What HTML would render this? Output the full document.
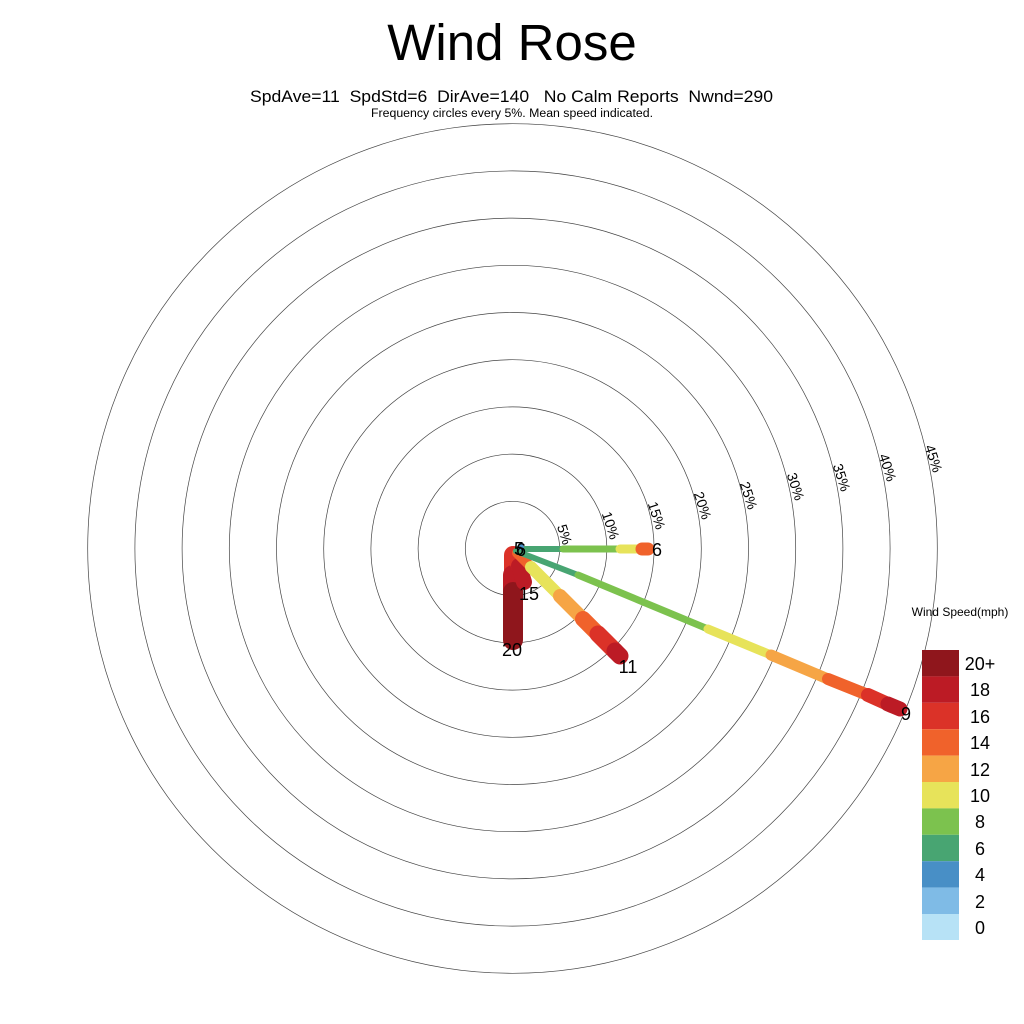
<!DOCTYPE html>
<html><head><meta charset="utf-8"><style>
html,body{margin:0;padding:0;background:#fff;}
svg{display:block;font-family:"Liberation Sans",sans-serif;}
text{white-space:pre;}
</style></head><body>
<svg width="1024" height="1024" viewBox="0 0 1024 1024" xmlns="http://www.w3.org/2000/svg" xml:space="preserve">
<rect width="1024" height="1024" fill="#fff"/>
<text x="512" y="60" font-size="51" text-anchor="middle">Wind Rose</text>
<text x="250" y="102" font-size="17" textLength="523" lengthAdjust="spacingAndGlyphs">SpdAve=11  SpdStd=6  DirAve=140   No Calm Reports  Nwnd=290</text>
<text x="371" y="117" font-size="11.5" textLength="282" lengthAdjust="spacingAndGlyphs">Frequency circles every 5%. Mean speed indicated.</text>
<g fill="none" stroke="#444" stroke-width="0.7">
<circle cx="512.5" cy="548.5" r="47.2"/><circle cx="512.5" cy="548.5" r="94.4"/><circle cx="512.5" cy="548.5" r="141.6"/>
<circle cx="512.5" cy="548.5" r="188.8"/><circle cx="512.5" cy="548.5" r="236"/><circle cx="512.5" cy="548.5" r="283.2"/>
<circle cx="512.5" cy="548.5" r="330.4"/><circle cx="512.5" cy="548.5" r="377.6"/><circle cx="512.5" cy="548.5" r="424.8"/>
</g>
<g font-size="14" text-anchor="middle">
<text transform="translate(560,536) rotate(72)">5%</text>
<text transform="translate(606,527) rotate(72)">10%</text>
<text transform="translate(652,517) rotate(72)">15%</text>
<text transform="translate(698,507) rotate(72)">20%</text>
<text transform="translate(744,497) rotate(72)">25%</text>
<text transform="translate(791,488) rotate(72)">30%</text>
<text transform="translate(837,479) rotate(72)">35%</text>
<text transform="translate(883,469) rotate(72)">40%</text>
<text transform="translate(929,460) rotate(72)">45%</text>
</g>
<g stroke-linecap="round" fill="none">
<line x1="513" y1="555" x2="513" y2="575" stroke="#db3228" stroke-width="18"/>
<line x1="513" y1="575" x2="513" y2="592" stroke="#bc1b25" stroke-width="20"/>
<line x1="513" y1="592" x2="513" y2="640" stroke="#8f161c" stroke-width="20"/>
<line x1="515" y1="555" x2="519" y2="566" stroke="#db3228" stroke-width="16"/>
<line x1="519" y1="566" x2="524" y2="582" stroke="#bc1b25" stroke-width="16"/>
<line x1="517" y1="553" x2="531" y2="567" stroke="#f0622b" stroke-width="10"/>
<line x1="531" y1="567" x2="560" y2="596" stroke="#e7e35a" stroke-width="12"/>
<line x1="560" y1="596" x2="583" y2="619" stroke="#f6a545" stroke-width="14"/>
<line x1="583" y1="619" x2="598" y2="634" stroke="#f0622b" stroke-width="16"/>
<line x1="598" y1="634" x2="615" y2="651" stroke="#db3228" stroke-width="17"/>
<line x1="615" y1="651" x2="620" y2="656" stroke="#bc1b25" stroke-width="17"/>
<line x1="516" y1="551" x2="578" y2="575" stroke="#48a572" stroke-width="6"/>
<line x1="578" y1="575" x2="708" y2="629" stroke="#7cc24e" stroke-width="7"/>
<line x1="708" y1="629" x2="771" y2="655" stroke="#e7e35a" stroke-width="9"/>
<line x1="771" y1="655" x2="828" y2="679" stroke="#f6a545" stroke-width="11"/>
<line x1="828" y1="679" x2="868" y2="695" stroke="#f0622b" stroke-width="12"/>
<line x1="868" y1="695" x2="888" y2="704" stroke="#db3228" stroke-width="14"/>
<line x1="888" y1="704" x2="900" y2="709" stroke="#bc1b25" stroke-width="15"/>
<line x1="518" y1="549" x2="563" y2="549" stroke="#48a572" stroke-width="6"/>
<line x1="563" y1="549" x2="620" y2="549" stroke="#7cc24e" stroke-width="7"/>
<line x1="620" y1="549" x2="640" y2="549" stroke="#e7e35a" stroke-width="9"/>
<line x1="642" y1="549" x2="648" y2="549" stroke="#f0622b" stroke-width="13"/>
</g>
<circle cx="521" cy="547" r="3" fill="#488fc6"/>
<g font-size="18" text-anchor="middle">
<text x="519" y="555">5</text><text x="521" y="556">6</text>
<text x="657" y="556">6</text>
<text x="906" y="720">9</text>
<text x="628" y="673">11</text>
<text x="529" y="600">15</text>
<text x="512" y="656">20</text>
</g>
<text x="960" y="616" font-size="12" text-anchor="middle">Wind Speed(mph)</text>
<g>
<rect x="922" y="650" width="37" height="26.4" fill="#8f161c"/>
<rect x="922" y="676.4" width="37" height="26.4" fill="#bc1b25"/>
<rect x="922" y="702.8" width="37" height="26.4" fill="#db3228"/>
<rect x="922" y="729.2" width="37" height="26.4" fill="#f0622b"/>
<rect x="922" y="755.6" width="37" height="26.4" fill="#f6a545"/>
<rect x="922" y="782" width="37" height="26.4" fill="#e7e35a"/>
<rect x="922" y="808.4" width="37" height="26.4" fill="#7cc24e"/>
<rect x="922" y="834.8" width="37" height="26.4" fill="#48a572"/>
<rect x="922" y="861.2" width="37" height="26.4" fill="#488fc6"/>
<rect x="922" y="887.6" width="37" height="26.4" fill="#7fbbe6"/>
<rect x="922" y="914" width="37" height="26" fill="#b7e2f6"/>
</g>
<g font-size="18" text-anchor="middle">
<text x="980" y="670">20+</text>
<text x="980" y="696">18</text>
<text x="980" y="723">16</text>
<text x="980" y="749">14</text>
<text x="980" y="776">12</text>
<text x="980" y="802">10</text>
<text x="980" y="828">8</text>
<text x="980" y="855">6</text>
<text x="980" y="881">4</text>
<text x="980" y="908">2</text>
<text x="980" y="934">0</text>
</g>
</svg>
</body></html>
